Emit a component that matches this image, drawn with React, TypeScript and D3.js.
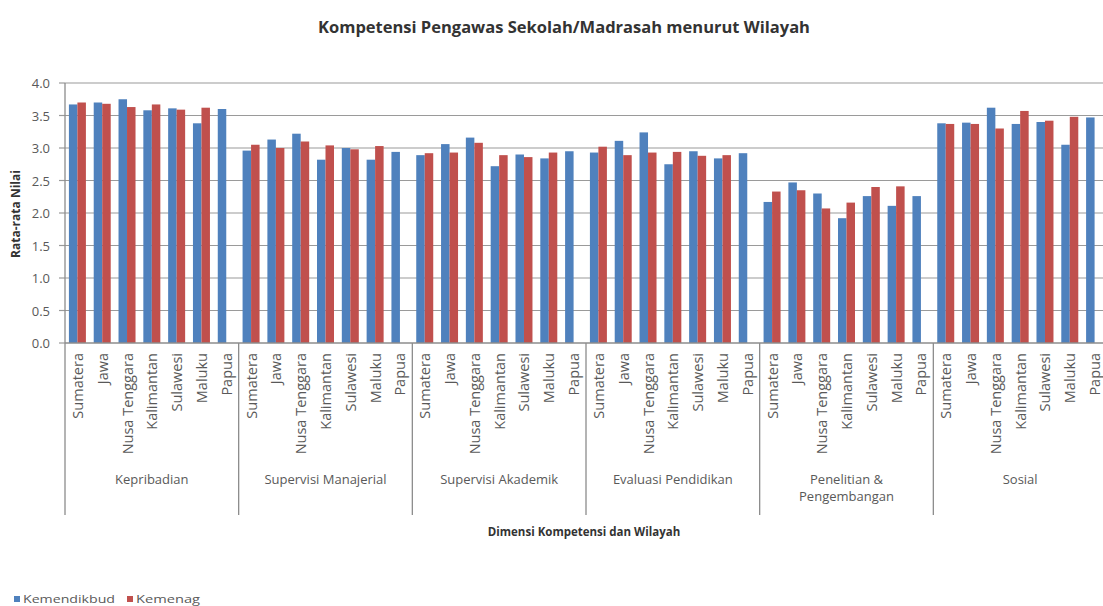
import * as d3 from "d3";

// dimensions and regions
const groups = [
  "Kepribadian",
  "Supervisi Manajerial",
  "Supervisi Akademik",
  "Evaluasi Pendidikan",
  "Penelitian & Pengembangan",
  "Sosial",
];
const groupLines = [
  ["Kepribadian"],
  ["Supervisi Manajerial"],
  ["Supervisi Akademik"],
  ["Evaluasi Pendidikan"],
  ["Penelitian &", "Pengembangan"],
  ["Sosial"],
];
const regions = ["Sumatera", "Jawa", "Nusa Tenggara", "Kalimantan", "Sulawesi", "Maluku", "Papua"];
const seriesNames = ["Kemendikbud", "Kemenag"];

// one row per dimension, one value per region
const kemendikbud = [
  [3.67, 3.7, 3.75, 3.58, 3.61, 3.38, 3.6],
  [2.96, 3.13, 3.22, 2.82, 3.0, 2.82, 2.94],
  [2.89, 3.06, 3.16, 2.72, 2.9, 2.84, 2.95],
  [2.93, 3.11, 3.24, 2.75, 2.95, 2.84, 2.92],
  [2.17, 2.47, 2.3, 1.92, 2.26, 2.11, 2.26],
  [3.38, 3.39, 3.62, 3.37, 3.4, 3.05, 3.47],
];
const kemenag = [
  [3.7, 3.68, 3.63, 3.67, 3.59, 3.62, null],
  [3.05, 3.0, 3.1, 3.04, 2.98, 3.03, null],
  [2.92, 2.93, 3.08, 2.89, 2.86, 2.93, null],
  [3.02, 2.89, 2.93, 2.94, 2.88, 2.89, null],
  [2.33, 2.35, 2.07, 2.16, 2.4, 2.41, null],
  [3.37, 3.37, 3.3, 3.57, 3.42, 3.48, null],
];
const yTicks = [0, 0.5, 1, 1.5, 2, 2.5, 3, 3.5, 4];

const COLORS = ["#4f81bd", "#c0504d"];
const FONT = "'Open Sans', sans-serif";
const W = 1103;
const H = 606;
const plot = { left: 65, right: 1107, top: 83, bottom: 343 };

type Row = { key: string; group: number; region: string; values: (number | null)[] };
const rows: Row[] = [];
groups.forEach((g, gi) =>
  regions.forEach((r, ri) =>
    rows.push({ key: `${gi}|${r}`, group: gi, region: r, values: [kemendikbud[gi][ri], kemenag[gi][ri]] })
  )
);

const x = d3.scaleBand<string>().domain(rows.map((d) => d.key)).range([plot.left, plot.right]).padding(0);
const xSeries = d3
  .scaleBand<string>()
  .domain(seriesNames)
  .range([0, x.bandwidth()])
  .paddingInner(0)
  .paddingOuter(0.46);
const y = d3.scaleLinear().domain([0, 4]).range([plot.bottom, plot.top]);

const groupScale = d3
  .scaleBand<number>()
  .domain(groups.map((_, i) => i))
  .range([plot.left, plot.right])
  .padding(0);

export default function App() {
  const labelColor = "#595959";
  return (
    <svg
      width={W}
      height={H}
      style={{ position: "absolute", left: 0, top: 0, background: "#fff", fontFamily: FONT }}
    >
      <rect width={W} height={H} fill="#fff" />

      {/* title */}
      <text x={564} y={33} textAnchor="middle" fontSize={16.5} fontWeight={700} fill="#333">
        Kompetensi Pengawas Sekolah/Madrasah menurut Wilayah
      </text>

      {/* gridlines + y ticks */}
      {yTicks.map((t) => (
        <g key={t}>
          {t > 0 && (
            <line x1={plot.left} x2={W} y1={y(t)} y2={y(t)} stroke="#9a9a9a" strokeWidth={1.2} />
          )}
          <line x1={plot.left - 6} x2={plot.left} y1={y(t)} y2={y(t)} stroke="#9a9a9a" strokeWidth={1.2} />
          <text x={50} y={y(t)} textAnchor="end" dominantBaseline="central" fontSize={13} fill={labelColor}>
            {t.toFixed(1)}
          </text>
        </g>
      ))}

      {/* bars */}
      {rows.map((d) =>
        d.values.map((v, si) =>
          v == null ? null : (
            <rect
              key={`${d.key}-${si}`}
              x={(x(d.key) as number) + (xSeries(seriesNames[si]) as number)}
              y={y(v)}
              width={xSeries.bandwidth()}
              height={y(0) - y(v)}
              fill={COLORS[si]}
            />
          )
        )
      )}

      {/* axes */}
      <line x1={plot.left} x2={plot.left} y1={plot.top} y2={plot.bottom} stroke="#8c8c8c" strokeWidth={1.3} />
      <line x1={plot.left} x2={W} y1={plot.bottom} y2={plot.bottom} stroke="#8c8c8c" strokeWidth={1.3} />

      {/* group separators */}
      {groups.map((_, gi) => (
        <line
          key={gi}
          x1={groupScale(gi) as number}
          x2={groupScale(gi) as number}
          y1={plot.bottom}
          y2={515}
          stroke="#8c8c8c"
          strokeWidth={1.3}
        />
      ))}

      {/* region labels */}
      {rows.map((d) => {
        const cx = (x(d.key) as number) + x.bandwidth() / 2;
        return (
          <text
            key={`lbl-${d.key}`}
            transform={`translate(${cx},${plot.bottom + 10}) rotate(-90)`}
            textAnchor="end"
            dominantBaseline="central"
            fontSize={14.5}
            fill={labelColor}
          >
            {d.region}
          </text>
        );
      })}

      {/* group labels */}
      {groupLines.map((lines, gi) => {
        const cx = (groupScale(gi) as number) + groupScale.bandwidth() / 2;
        return (
          <text key={`g-${gi}`} x={cx} y={484} textAnchor="middle" fontSize={13} fill={labelColor}>
            {lines.map((l, li) => (
              <tspan key={li} x={cx} dy={li === 0 ? 0 : 17}>
                {l}
              </tspan>
            ))}
          </text>
        );
      })}

      {/* axis titles */}
      <text x={584} y={536} textAnchor="middle" fontSize={11.5} fontWeight={700} fill="#333">
        Dimensi Kompetensi dan Wilayah
      </text>
      <text
        transform="translate(20,214) rotate(-90)"
        textAnchor="middle"
        fontSize={12}
        fontWeight={700}
        fill="#333"
      >
        Rata-rata Nilai
      </text>

      {/* legend */}
      {seriesNames.map((s, i) => {
        const x0 = i === 0 ? 14 : 127;
        return (
          <g key={s}>
            <rect x={x0} y={596} width={6} height={6} fill={COLORS[i]} />
            <text
              x={x0 + 9}
              y={599}
              dominantBaseline="central"
              fontSize={10}
              fill={labelColor}
              textLength={i === 0 ? 92 : 64}
              lengthAdjust="spacingAndGlyphs"
            >
              {s}
            </text>
          </g>
        );
      })}
    </svg>
  );
}
